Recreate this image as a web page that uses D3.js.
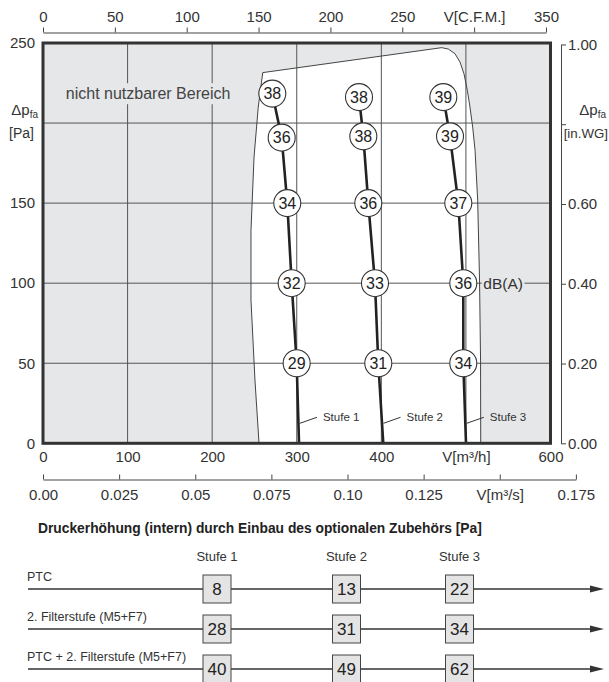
<!DOCTYPE html>
<html>
<head>
<meta charset="utf-8">
<script src="https://cdn.jsdelivr.net/npm/d3@7"></script>
<style>
  html, body { margin: 0; padding: 0; background: #fff; }
  svg { display: block; font-family: "Liberation Sans", Arial, Helvetica, sans-serif; }
</style>
</head>
<body>
<svg id="chart" width="609" height="682"></svg>
<script>
// ---------- data ----------
// primary axes: volume flow [m³/h] and pressure [Pa]
const flowTicks = [0, 100, 200, 300, 400, 500, 600];
const flowTickLabels = ["0", "100", "200", "300", "400", "V[m³/h]", "600"];
const pressureTicks = [0, 50, 100, 150, 200, 250];
const pressureTickLabels = ["0", "50", "100", "150", "", "250"];

// secondary axes
const cfmTicks = [0, 50, 100, 150, 200, 250, 300, 350];
const cfmTickLabels = ["0", "50", "100", "150", "200", "250", "V[C.F.M.]", "350"];
const m3sTicks = [0, 0.025, 0.05, 0.075, 0.10, 0.125, 0.15, 0.175];
const m3sTickLabels = ["0.00", "0.025", "0.05", "0.075", "0.10", "0.125", "V[m³/s]", "0.175"];
const inwgTicks = [0, 0.2, 0.4, 0.6, 0.8, 1.0];
const inwgTickLabels = ["0.00", "0.20", "0.40", "0.60", "", "1.00"];

// usable operating range (outline of the white area), flow [m³/h] / pressure [Pa]
const rangeFlow     = [255.4, 250.6, 245.9, 245.9, 249.5, 254.5, 259.8, 471.4, 479.2, 487.1, 493.0, 497.7, 501.7, 504.8, 508.0, 510.8, 513.9, 516.1, 517.3, 517.5];
const rangePressure = [0,     39.5,  89.4,  133.1, 178.8, 210.0, 231.5, 247.1, 246.2, 243.3, 238.1, 230.8, 220.4, 210.0, 197.5, 183.0, 151.8, 101.9, 52.0,  0];

// fan curves per speed step
const stufen = ["Stufe 1", "Stufe 2", "Stufe 3"];
const curveFlow = [
  [271.1, 282.2, 288.8, 294.0, 299.9, 302.7],
  [373.6, 378.7, 384.6, 392.5, 396.4, 402.3],
  [473.3, 481.2, 491.0, 496.9, 496.9, 500.1]
];
const curvePressure = [
  [218.4, 190.9, 150, 100, 50, 0],
  [216.2, 191.7, 150, 100, 50, 0],
  [216.2, 191.7, 150, 100, 50, 0]
];
// sound level dB(A) at the first five points of each curve
const soundLevel = [
  [38, 36, 34, 32, 29],
  [38, 38, 36, 33, 31],
  [39, 39, 37, 36, 34]
];

// pressure increase through optional accessories [Pa]
const accessories = ["PTC", "2. Filterstufe (M5+F7)", "PTC + 2. Filterstufe (M5+F7)"];
const accessoryIncrease = [
  [8, 13, 22],
  [28, 31, 34],
  [40, 49, 62]
];

// ---------- setup ----------
const svg = d3.select("#chart");
const GRAY = "#e6e7e9", INK = "#333";

const x = d3.scaleLinear().domain([0, 600]).range([43, 550.5]);
const y = d3.scaleLinear().domain([0, 250]).range([443.3, 43]);
// unit conversions for secondary scales
const CFM = 1.699;      // m³/h per C.F.M.
const INWG = 249.09;    // Pa per in.WG
const xCfm = d3.scaleLinear().domain([0, 350]).range([x(0), x(350 * CFM)]);
const xM3s = d3.scaleLinear().domain([0, 0.175]).range([x(0), x(0.175 * 3600)]);
const yInwg = d3.scaleLinear().domain([0, 1]).range([y(0), y(INWG)]);

const [x0, x1] = x.range();
const [yb, yt] = y.range();

svg.append("defs").append("clipPath").attr("id", "plotclip")
  .append("rect").attr("x", x0).attr("y", yt).attr("width", x1 - x0).attr("height", yb - yt);

const plot = svg.append("g").attr("clip-path", "url(#plotclip)");

// unusable area background
plot.append("rect").attr("x", x0).attr("y", yt).attr("width", x1 - x0).attr("height", yb - yt)
  .attr("fill", GRAY);

// usable area
const rangePts = rangeFlow.map((f, i) => [f, rangePressure[i]]);
const rangeLine = d3.line().x(d => x(d[0])).y(d => y(d[1]));
plot.append("path")
  .attr("d", rangeLine([[rangePts[0][0], -5], ...rangePts, [rangePts[rangePts.length - 1][0], -5]]) + "Z")
  .attr("fill", "#fff");

// grid
plot.append("g").selectAll("line").data(flowTicks.slice(1, -1)).join("line")
  .attr("x1", d => x(d)).attr("x2", d => x(d)).attr("y1", yt).attr("y2", yb)
  .attr("stroke", "#555").attr("stroke-width", 1);
plot.append("g").selectAll("line").data(pressureTicks.slice(1, -1)).join("line")
  .attr("x1", x0).attr("x2", x1).attr("y1", d => y(d)).attr("y2", d => y(d))
  .attr("stroke", "#555").attr("stroke-width", 1);

// outline of usable area
plot.append("path")
  .attr("d", rangeLine(rangePts))
  .attr("fill", "none").attr("stroke", "#444").attr("stroke-width", 1);

// label for the unusable area, on a background patch that hides the grid
const naLabel = plot.append("g");
const naText = naLabel.append("text")
  .attr("x", x(27)).attr("y", y(218.4)).attr("dy", "0.35em")
  .attr("font-size", 16).attr("fill", "#444")
  .text("nicht nutzbarer Bereich");
const nb = naText.node().getBBox();
naLabel.insert("rect", "text").attr("x", nb.x - 3).attr("y", nb.y - 2)
  .attr("width", nb.width + 6).attr("height", nb.height + 4).attr("fill", GRAY);

// fan curves
const curveLine = d3.line().x(d => x(d[0])).y(d => y(d[1]));
stufen.forEach((name, s) => {
  const pts = curveFlow[s].map((f, i) => [f, curvePressure[s][i]]);
  plot.append("path").attr("d", curveLine(pts))
    .attr("fill", "none").attr("stroke", "#222").attr("stroke-width", 2.6);

  // step label with leader line near the bottom of the curve
  const pLead = 12.5;
  const fLead = d3.scaleLinear().domain([curvePressure[s][4], curvePressure[s][5]])
    .range([curveFlow[s][4], curveFlow[s][5]])(pLead);
  const lx = x(fLead) + 1.5, ly = y(pLead);
  plot.append("line").attr("x1", lx).attr("y1", ly).attr("x2", lx + 17).attr("y2", ly - 6)
    .attr("stroke", INK).attr("stroke-width", 1);
  plot.append("text").attr("x", lx + 23).attr("y", ly - 2)
    .attr("font-size", 11.5).attr("fill", INK).text(name);
});

// sound level markers
stufen.forEach((name, s) => {
  const g = plot.append("g").selectAll("g").data(soundLevel[s]).join("g")
    .attr("transform", (d, i) => `translate(${x(curveFlow[s][i])},${y(curvePressure[s][i])})`);
  g.append("circle").attr("r", 13.5).attr("fill", "#fff").attr("stroke", "#333").attr("stroke-width", 1.1);
  g.append("text").attr("text-anchor", "middle").attr("dy", "0.36em")
    .attr("font-size", 16).attr("fill", "#222").text(d => d);
});

// dB(A) unit label beside the Stufe 3 marker at 100 Pa
const dbLabel = plot.append("g");
const dbText = dbLabel.append("text")
  .attr("x", x(curveFlow[2][3]) + 20).attr("y", y(curvePressure[2][3])).attr("dy", "0.35em")
  .attr("font-size", 15.5).attr("fill", INK).text("dB(A)");
const db = dbText.node().getBBox();
dbLabel.insert("rect", "text").attr("x", db.x - 1.5).attr("y", db.y)
  .attr("width", db.width + 3).attr("height", db.height).attr("fill", GRAY);

// frame
svg.append("rect").attr("x", x0).attr("y", yt).attr("width", x1 - x0).attr("height", yb - yt)
  .attr("fill", "none").attr("stroke", "#333").attr("stroke-width", 3);

// ---------- axes ----------
function styleAxis(g, size) {
  g.selectAll("text").attr("font-size", size).attr("fill", INK).attr("font-family", null);
  g.selectAll("line, path").attr("stroke", "#444").attr("stroke-width", 1);
}

// bottom: m³/h
svg.append("g").attr("transform", `translate(0,${yb})`)
  .call(d3.axisBottom(x).tickValues(flowTicks).tickFormat((d, i) => flowTickLabels[i])
    .tickSize(0).tickPadding(8))
  .call(g => g.select(".domain").remove())
  .call(g => styleAxis(g, 15));

// left: Pa
svg.append("g").attr("transform", `translate(${x0},0)`)
  .call(d3.axisLeft(y).tickValues(pressureTicks).tickFormat((d, i) => pressureTickLabels[i])
    .tickSize(0).tickPadding(8))
  .call(g => g.select(".domain").remove())
  .call(g => styleAxis(g, 15));

// top: C.F.M.
svg.append("g").attr("transform", "translate(0,32.5)")
  .call(d3.axisTop(xCfm).tickValues(cfmTicks).tickFormat((d, i) => cfmTickLabels[i])
    .tickSizeInner(5).tickSizeOuter(0).tickPadding(6))
  .call(g => styleAxis(g, 15));

// second bottom: m³/s
svg.append("g").attr("transform", "translate(0,479.5)")
  .call(d3.axisBottom(xM3s).tickValues(m3sTicks).tickFormat((d, i) => m3sTickLabels[i])
    .tickSizeInner(-5).tickSizeOuter(0).tickPadding(10))
  .call(g => styleAxis(g, 15));

// right: in.WG
svg.append("g").attr("transform", "translate(561,0)")
  .call(d3.axisRight(yInwg).tickValues(inwgTicks).tickFormat((d, i) => inwgTickLabels[i])
    .tickSizeInner(5).tickSizeOuter(0).tickPadding(2))
  .call(g => styleAxis(g, 15));

// axis titles
function deltaP(xPos, yPos) {
  const t = svg.append("text").attr("x", xPos).attr("y", yPos).attr("text-anchor", "end")
    .attr("font-size", 15).attr("fill", INK);
  t.append("tspan").text("Δp");
  t.append("tspan").attr("font-size", 10).attr("dy", 3).text("fa");
}
deltaP(38, 115);
svg.append("text").attr("x", 34).attr("y", 138).attr("text-anchor", "end")
  .attr("font-size", 14).attr("fill", INK).text("[Pa]");
deltaP(606, 115);
svg.append("text").attr("x", 608).attr("y", 138).attr("text-anchor", "end")
  .attr("font-size", 13.3).attr("fill", INK).text("[in.WG]");

// ---------- accessory pressure increase ----------
svg.append("text").attr("x", 38).attr("y", 533)
  .attr("font-size", 13.8).attr("font-weight", "bold").attr("fill", "#222")
  .text("Druckerhöhung (intern) durch Einbau des optionalen Zubehörs [Pa]");

const colX = d3.scaleOrdinal().domain(stufen).range([217, 346.5, 459.5]);
const rowY = d3.scalePoint().domain(accessories).range([589, 669]);

svg.append("g").selectAll("text").data(stufen).join("text")
  .attr("x", d => colX(d)).attr("y", 556).attr("dy", "0.35em").attr("text-anchor", "middle")
  .attr("font-size", 13).attr("fill", INK).text(d => d);

const rows = svg.append("g").selectAll("g").data(accessories).join("g")
  .attr("transform", d => `translate(0,${rowY(d)})`);
rows.append("line").attr("x1", 28).attr("x2", 592).attr("y1", 0).attr("y2", 0)
  .attr("stroke", INK).attr("stroke-width", 1.3);
rows.append("path").attr("d", "M590,-3.5L604,0L590,3.5Z").attr("fill", INK);
rows.append("text").attr("x", 27).attr("y", -12).attr("dy", "0.35em")
  .attr("font-size", 12.5).attr("fill", INK).text(d => d);

rows.each(function(rowName, r) {
  const cells = d3.select(this).selectAll("g.cell").data(accessoryIncrease[r]).join("g")
    .attr("class", "cell")
    .attr("transform", (d, i) => `translate(${colX(stufen[i])},0)`);
  cells.append("rect").attr("x", -14).attr("y", -14).attr("width", 28).attr("height", 28)
    .attr("fill", "#e4e4e4").attr("stroke", "#444").attr("stroke-width", 1);
  cells.append("text").attr("text-anchor", "middle").attr("dy", "0.36em")
    .attr("font-size", 17).attr("fill", "#222").text(d => d);
});
</script>
</body>
</html>
